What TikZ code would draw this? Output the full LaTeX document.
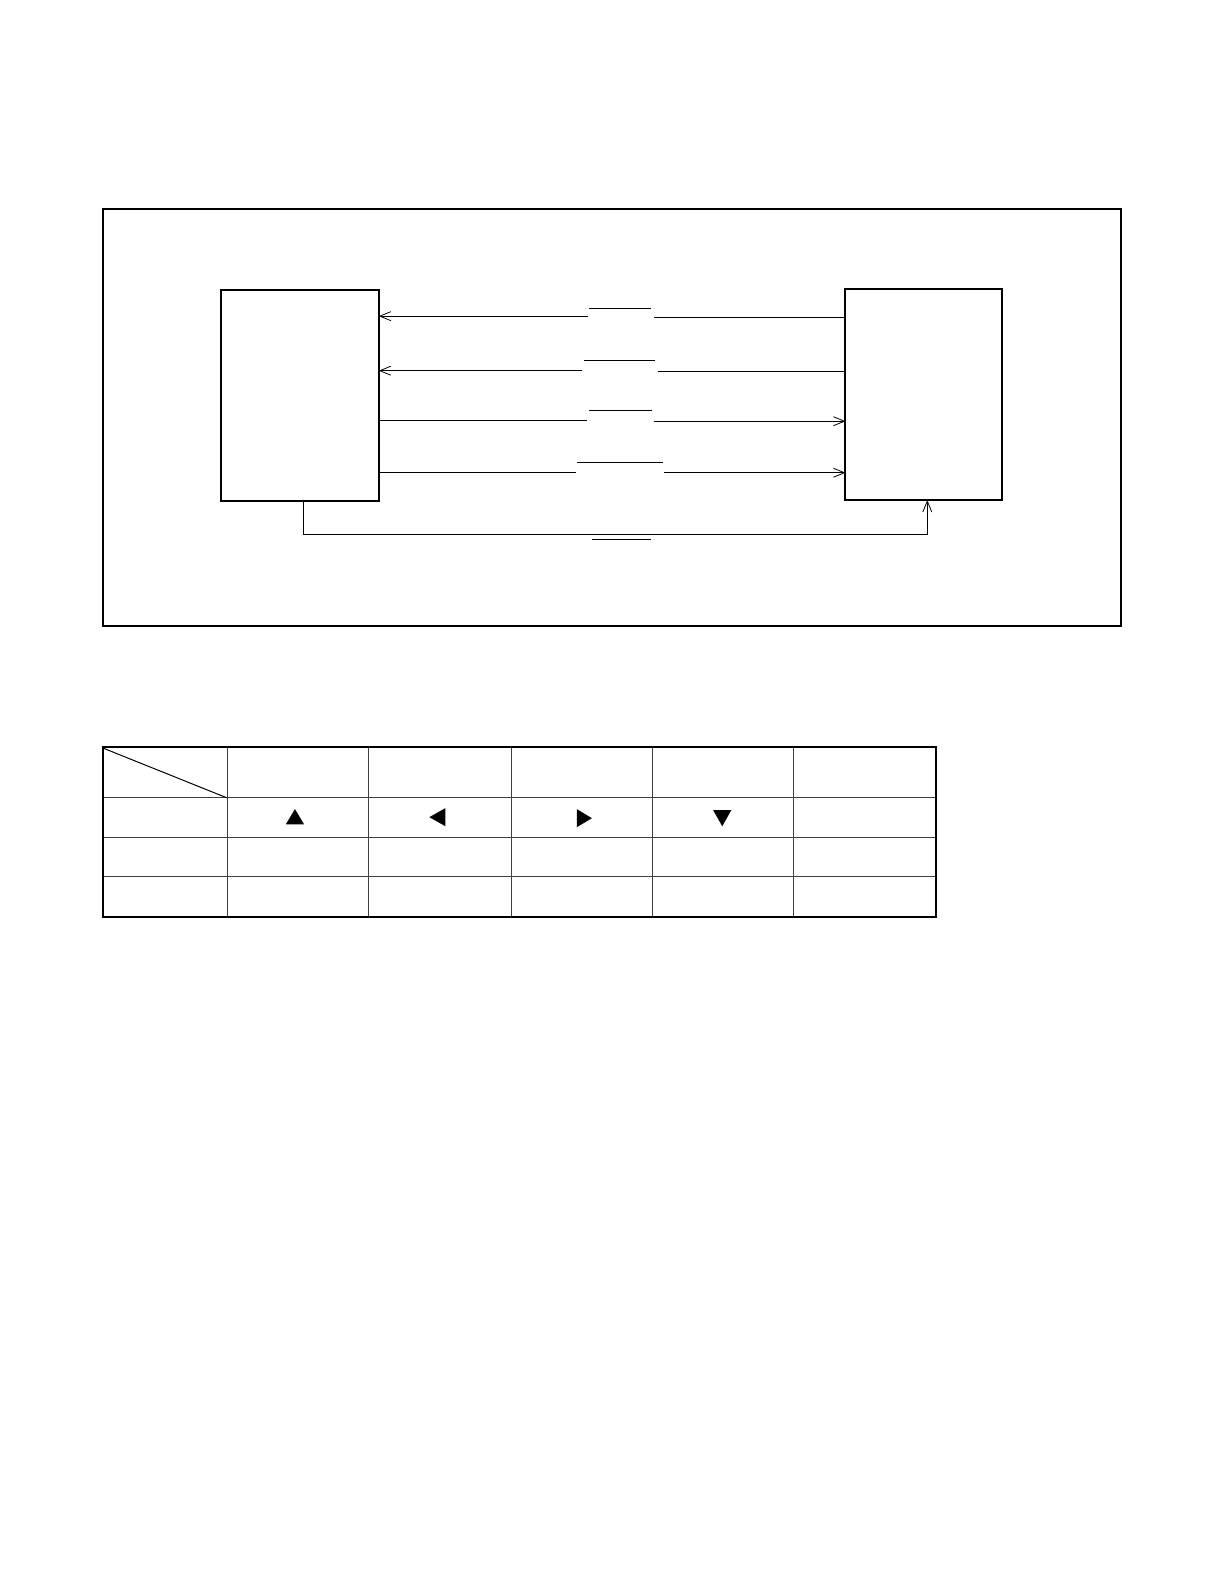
\documentclass[tikz,border=0pt]{standalone}
\usetikzlibrary{arrows.meta}
\begin{document}
\begin{tikzpicture}[x=1.0101bp,y=-1.0101bp,
  frame/.style={draw=black,line width=2bp},
  blk/.style={draw=black,line width=2bp},
  wire/.style={draw=black,line width=1bp},
  arr/.style={wire,-{Straight Barb[length=11bp,width=9bp,line width=0.8bp]}},
  bar/.style={draw=black,line width=1bp},
  grid/.style={draw=black!75,line width=1bp},
  tri/.style={fill=black}]
\useasboundingbox (0,0) rectangle (1211.76,1568.16);
% outer frame
\draw[frame] (102,207) rectangle (1110,620);
% boxes
\coordinate (LA) at (219,287); \coordinate (LB) at (375,496);
\coordinate (RA) at (837,286); \coordinate (RB) at (992,495);
\draw[blk] (LA) rectangle (LB);
\draw[blk] (RA) rectangle (RB);
% row 1 (right -> left)
\coordinate (r1a) at (375,313); \coordinate (r1b) at (582,313);
\coordinate (r1c) at (647,314); \coordinate (r1d) at (837,314);
\draw[arr] (r1b) -- (r1a);
\draw[wire] (r1d) -- (r1c);
\draw[bar] (583,305) -- (644,305);
% row 2 (right -> left)
\coordinate (r2a) at (375,367); \coordinate (r2b) at (576,367);
\coordinate (r2c) at (651,368); \coordinate (r2d) at (837,368);
\draw[arr] (r2b) -- (r2a);
\draw[wire] (r2d) -- (r2c);
\draw[bar] (578,357) -- (648,357);
% row 3 (left -> right)
\coordinate (r3a) at (375,416); \coordinate (r3b) at (581,416);
\coordinate (r3c) at (647,417); \coordinate (r3d) at (837,417);
\draw[wire] (r3a) -- (r3b);
\draw[arr] (r3c) -- (r3d);
\draw[bar] (583,406) -- (645,406);
% row 4 (left -> right)
\coordinate (r4a) at (375,468); \coordinate (r4b) at (570,468);
\coordinate (r4c) at (657,468); \coordinate (r4d) at (837,468);
\draw[wire] (r4a) -- (r4b);
\draw[arr] (r4c) -- (r4d);
\draw[bar] (571,458) -- (656,458);
% bottom loop
\coordinate (b1) at (300,496); \coordinate (b2) at (918,495);
\draw[arr] (b1) -- (300,529) -- (918,529) -- (b2);
\draw[bar] (586,534) -- (644,534);
% table
\foreach \x in {225,365,506,646,786} \draw[grid] (\x,740) -- (\x,908);
\foreach \y in {790,829,868} \draw[grid] (102,\y) -- (927,\y);
\draw[wire] (103,741) -- (225,790);
\draw[frame] (102,740) rectangle (927,908);
% triangles
\fill[tri] (292,801) -- (301,816) -- (283,816) -- cycle;
\fill[tri] (425,809) -- (441,800) -- (441,818) -- cycle;
\fill[tri] (586,810) -- (571,801) -- (571,819) -- cycle;
\fill[tri] (715,818) -- (706,802) -- (724,802) -- cycle;
\end{tikzpicture}
\end{document}
